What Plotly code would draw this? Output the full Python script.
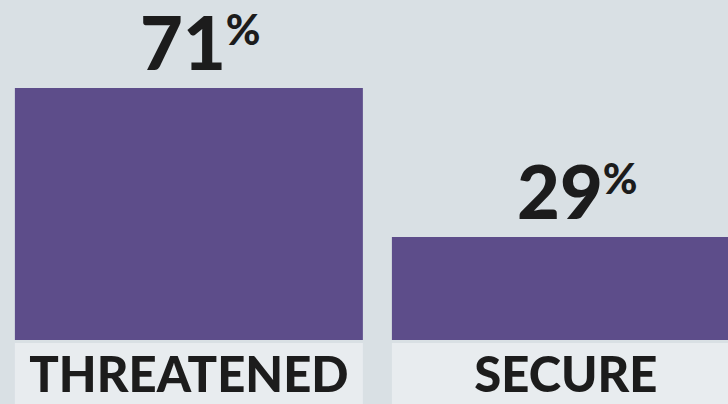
import plotly.graph_objects as go

categories = ["THREATENED", "SECURE"]
values = [71, 29]

BAR_COLOR = "#5d4d8a"
BG = "#d9e0e4"
BOX = "#e8ecef"
TEXT = "#1c1c1c"
bargap = 0.077
half = (1 - bargap) / 2

labels = [f"{v}<span style='font-size:60px'><sup>%</sup></span>" for v in values]

fig = go.Figure(go.Bar(
    x=categories, y=values, marker=dict(color=BAR_COLOR, line=dict(width=0)),
    cliponaxis=False, hoverinfo="skip",
))

shapes = []
for i, _ in enumerate(categories):
    shapes.append(dict(type="rect", xref="x", yref="paper", x0=i - half, x1=i + half,
                       y0=-64 / 340, y1=-3 / 340, fillcolor=BOX, line=dict(width=0), layer="below"))

annotations = [dict(x=c, y=v, xref="x", yref="y", text=t, showarrow=False,
                    xanchor="center", yanchor="bottom", xshift=12, yshift=0,
                    font=dict(family="Lato", size=74, color=TEXT, weight=900))
               for c, v, t in zip(categories, values, labels)]

fig.update_layout(
    width=728, height=404, margin=dict(l=0, r=0, t=0, b=64),
    paper_bgcolor=BG, plot_bgcolor=BG, bargap=bargap, showlegend=False,
    shapes=shapes, annotations=annotations,
    xaxis=dict(range=[-0.501, 1.43], showgrid=False, zeroline=False, showline=False,
               ticks="", ticklabelstandoff=2,
               tickfont=dict(family="Lato", size=49, color=TEXT, weight=900)),
    yaxis=dict(range=[0, 95.8], visible=False, showgrid=False, zeroline=False),
)

fig.write_html("out.html", config={"displayModeBar": False},
               post_script="document.body.style.margin='0';document.body.style.padding='0';document.body.style.overflow='hidden';")
